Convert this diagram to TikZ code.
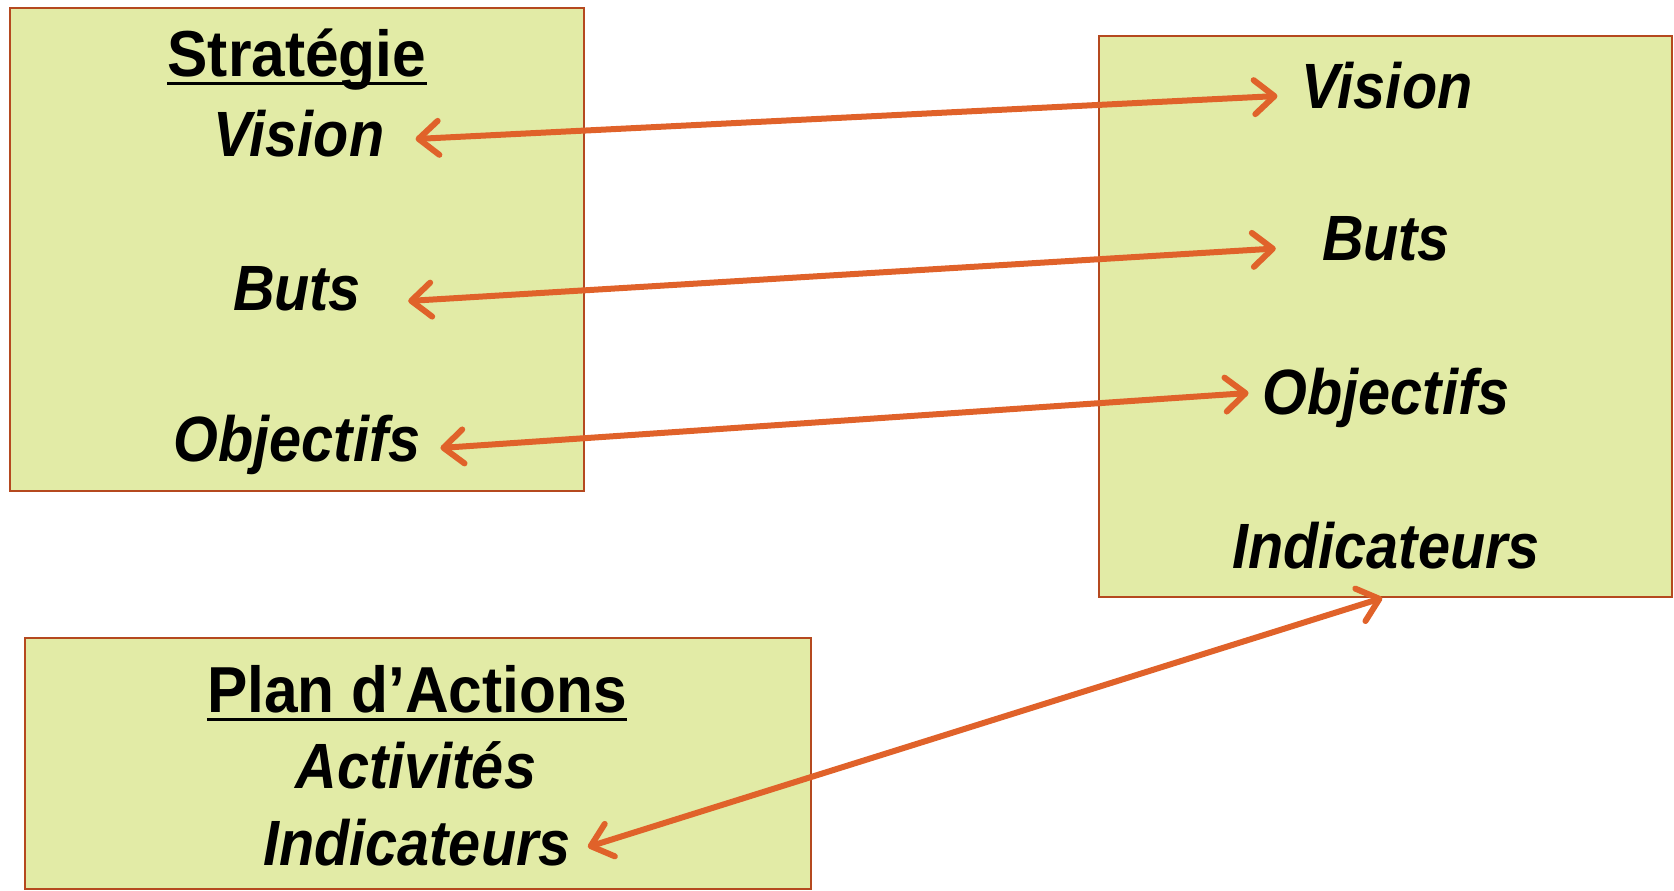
\documentclass[tikz,border=0pt]{standalone}
\usepackage{fontspec}
\setmainfont{Liberation Sans}
\newfontfamily\lblfont[FakeStretch=0.9]{Liberation Sans}
\newfontfamily\hdfont[FakeStretch=0.93]{Liberation Sans}
\usetikzlibrary{arrows.meta}
\definecolor{boxfill}{HTML}{E2EBA6}
\definecolor{boxline}{HTML}{B5491F}
\definecolor{arrcol}{HTML}{E0622A}
\tikzset{
  box/.style={draw=boxline, fill=boxfill, line width=2pt, inner sep=0pt},
  lbl/.style={anchor=base, inner sep=0pt, font=\lblfont\bfseries\itshape\fontsize{64}{70}\selectfont},
  hd/.style={anchor=base, inner sep=0pt, font=\hdfont\bfseries\fontsize{65}{70}\selectfont},
  uline/.style={line width=3pt, black},
  arr/.style={draw=arrcol, line width=6pt, line cap=round,
    {Straight Barb[length=20pt,width=34pt,round]}-{Straight Barb[length=20pt,width=34pt,round]}}
}
\begin{document}
\begin{tikzpicture}[x=1pt,y=1pt]
\useasboundingbox (0,0) rectangle (1674,-891);
% boxes
\node[box, minimum width=574.4pt, minimum height=483.5pt] (b1) at (296.8,-249.3) {};
\node[box, minimum width=573.5pt, minimum height=560.7pt] (b2) at (1385.3,-316.6) {};
\node[box, minimum width=786.4pt, minimum height=251pt] (b3) at (417.8,-763.5) {};
% left box texts
\node[hd] (st) at (297,-77) {Stratégie};
\draw[uline] ([yshift=-7pt]st.base west) -- ([yshift=-7pt]st.base east);
\node[lbl] (lv) at (299,-156) {Vision};
\node[lbl] (lb) at (297,-310) {Buts};
\node[lbl] (lo) at (297,-461) {Objectifs};
% right box texts
\node[lbl] (rv) at (1387,-108) {Vision};
\node[lbl] (rb) at (1386,-260.5) {Buts};
\node[lbl] (ro) at (1386,-414) {Objectifs};
\node[lbl] (ri) at (1386,-568) {Indicateurs};
% bottom box texts
\node[hd] (pa) at (417,-712) {Plan d’Actions};
\draw[uline] ([yshift=-7pt]pa.base west) -- ([yshift=-7pt]pa.base east);
\node[lbl] (ac) at (416,-788) {Activités};
\node[lbl] (bi) at (417,-865) {Indicateurs};
% arrows
\draw[arr] ([shift={(31pt,17pt)}]lv.base east) -- ([shift={(-24pt,12pt)}]rv.base west);
\draw[arr] ([shift={(47pt,9pt)}]lb.base east) -- ([shift={(-46pt,12pt)}]rb.base west);
\draw[arr] ([shift={(20pt,13pt)}]lo.base east) -- ([shift={(-14pt,21pt)}]ro.base west);
\draw[arr] ([shift={(17pt,18pt)}]bi.base east) -- ([xshift=-3pt]b2.south);
\end{tikzpicture}
\end{document}
